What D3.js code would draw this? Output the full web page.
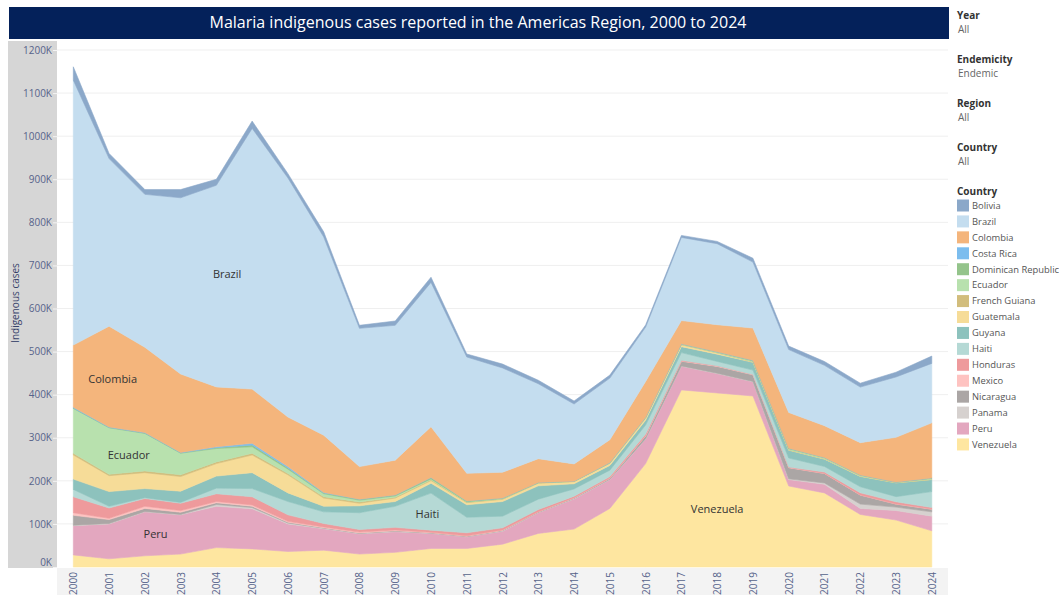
<!DOCTYPE html>
<html>
<head>
<meta charset="utf-8">
<title>Malaria indigenous cases</title>
<script src="https://cdn.jsdelivr.net/npm/d3@7"></script>
<style>
    body { margin: 0; background: #fff; }
    svg text { font-family: "Open Sans", "Noto Sans", sans-serif; }
</style>
</head>
<body>
<script>
// years on the x axis
var years = d3.range(2000, 2025);

// indigenous cases per country, in thousands
var venezuela = [28, 19, 26, 30, 45, 42, 36, 39, 30, 34, 43, 43, 53, 78, 88, 136, 240, 411, 404, 397, 188, 172, 122, 109, 84];
var peru      = [68, 81, 102, 91, 96, 93, 64, 50, 47, 48, 35, 27, 30, 48, 70, 67, 57, 55, 45, 33, 15, 20, 14, 22, 34];
var panama    = [1, 1, 1, 1, 4, 3, 2, 1, 1, 1, 0.5, 0.4, 1, 0.7, 0.9, 0.5, 0.8, 0.7, 0.7, 0.6, 1.6, 3, 10, 8, 10];
var nicaragua = [23, 9, 7, 5, 4, 3, 2, 1, 1, 1, 1, 1, 1, 1.2, 1.2, 2.3, 6.3, 10.9, 15.9, 15.5, 26, 22, 21, 7, 6];
var mexico    = [6, 3, 5, 4, 3, 3, 2, 2, 2, 2, 1, 1, 1, 0.5, 0.7, 0.5, 0.5, 0.7, 0.8, 0.6, 0.4, 0.3, 0.3, 0.3, 0.4];
var honduras  = [37, 24, 18, 17, 18, 19, 15, 8, 6, 6, 5, 7, 5, 5, 3.4, 3.5, 4, 1.3, 0.7, 0.3, 1, 3, 5, 5, 3.6];
var haiti     = [17, 4, 2, 2, 13, 19, 31, 27, 39, 49, 86, 36, 27, 24, 17, 15, 21, 18, 10, 10, 21, 13, 14, 12, 37];
var guyana    = [24, 34, 21, 26, 28, 37, 20, 13, 16, 11, 23, 29, 34, 31, 12, 11, 11, 13.9, 17, 18, 18, 17, 24, 32, 28];
var guatemala = [56, 37, 37, 34, 29, 41, 42, 19, 6, 8, 6, 5, 5, 6, 5, 5, 5, 4.4, 3, 1.2, 1, 0.8, 1, 0.5, 0.5];
var frenchGuiana = [4, 3, 4, 4, 4, 4, 3, 3, 3, 2, 2, 1, 1, 1, 0.4, 0.4, 0.3, 0.4, 0.2, 0.2, 0.2, 0.1, 0.1, 0.1, 0.1];
var ecuador   = [104, 108, 87, 50, 31, 15, 10, 7, 4, 3, 2, 1, 1, 0.4, 0.2, 0.6, 1.2, 1.3, 1.6, 2, 2.2, 2.3, 1.7, 0.7, 2];
var dominicanRep = [1, 1, 1, 1, 2, 4, 3, 2, 2, 2, 3, 2, 1, 0.6, 0.5, 0.6, 0.7, 0.4, 0.5, 1.3, 1.2, 0.5, 0.5, 0.5, 1];
var costaRica = [2, 1, 1, 1, 2, 4, 3, 1, 0.5, 0.3, 0.1, 0, 0, 0, 0, 0, 0, 0, 0, 0, 0.1, 0, 0, 0, 0];
var colombia  = [144, 234, 198, 182, 139, 126, 115, 133, 75.5, 80.7, 118, 64, 60, 55, 40, 53, 83, 54, 63, 75, 83, 74, 75, 104, 128];
var brazil    = [615, 389, 355, 409, 468, 605, 555, 460, 321, 313, 335, 270, 242, 174, 139, 143, 126, 193, 188, 153, 146, 140, 129, 140, 138];
var bolivia   = [31, 12, 11, 19, 14, 17, 10, 12, 7, 10, 12, 7, 9, 8, 7, 7, 5, 4.6, 5.3, 9, 8, 9, 9, 11, 17];

// legend order (top of the stack first)
var countries = ["Bolivia", "Brazil", "Colombia", "Costa Rica", "Dominican Republic", "Ecuador",
    "French Guiana", "Guatemala", "Guyana", "Haiti", "Honduras", "Mexico", "Nicaragua",
    "Panama", "Peru", "Venezuela"];
var series = [bolivia, brazil, colombia, costaRica, dominicanRep, ecuador, frenchGuiana,
    guatemala, guyana, haiti, honduras, mexico, nicaragua, panama, peru, venezuela];
var colors = ["#8ba8c9", "#c4ddef", "#f4b57c", "#7cbdee", "#94c48b", "#b8e1ae", "#d2bd7c",
    "#f6dc98", "#8dc2bd", "#b5d9d5", "#ee9a9c", "#fec3c1", "#aba6a5", "#d6d1cf", "#e3a7bf", "#fee6a0"];

var yTicks = d3.range(0, 1200001, 100000);

// labels drawn inside the areas
var areaLabels = [
    {name: "Brazil", year: 2004.3, value: 680000},
    {name: "Colombia", year: 2001.1, value: 436000},
    {name: "Ecuador", year: 2001.55, value: 259000},
    {name: "Peru", year: 2002.3, value: 77000},
    {name: "Haiti", year: 2009.9, value: 122000},
    {name: "Venezuela", year: 2018.0, value: 135000}
];

var width = 1059, height = 595;

var x = d3.scaleLinear().domain([2000, 2024]).range([73.3, 931.8]);
var y = d3.scaleLinear().domain([0, 1200000]).range([567, 50]);

var table = years.map(function(yr, i){
    var row = {year: yr};
    countries.forEach(function(c, j){ row[c] = series[j][i] * 1000; });
    return row;
});

var stackKeys = countries.slice().reverse(); // Venezuela at the bottom
var stacked = d3.stack().keys(stackKeys)(table);
var color = d3.scaleOrdinal().domain(countries).range(colors);

var svg = d3.select("body").append("svg")
    .attr("width", width)
    .attr("height", height);

// title bar
svg.append("rect")
    .attr("x", 9).attr("y", 7).attr("width", 940).attr("height", 32)
    .attr("fill", "#04215a");
svg.append("text")
    .attr("x", 478).attr("y", 28)
    .attr("text-anchor", "middle")
    .attr("fill", "#fff")
    .style("font-size", "16px")
    .text("Malaria indigenous cases reported in the Americas Region, 2000 to 2024");

// axis bands
svg.append("rect")
    .attr("x", 8).attr("y", 41).attr("width", 49).attr("height", 527)
    .attr("fill", "#d6d6d6");
svg.append("rect")
    .attr("x", 57).attr("y", 568).attr("width", 891).attr("height", 27)
    .attr("fill", "#f3f3f3");

// gridlines
svg.append("g").selectAll("line")
    .data(yTicks.slice(1))
    .enter().append("line")
    .attr("x1", 57).attr("x2", 948)
    .attr("y1", function(d){ return y(d); })
    .attr("y2", function(d){ return y(d); })
    .attr("stroke", "#efefef")
    .attr("stroke-width", 1);

// stacked areas
var area = d3.area()
    .x(function(d){ return x(d.data.year); })
    .y0(function(d){ return y(d[0]); })
    .y1(function(d){ return y(d[1]); });

svg.append("g").selectAll("path")
    .data(stacked)
    .enter().append("path")
    .attr("d", area)
    .attr("fill", function(d){ return color(d.key); })
    .attr("stroke", function(d){ return color(d.key); })
    .attr("stroke-width", 0.6);

// y axis
var axisY = d3.axisLeft(y)
    .tickValues(yTicks)
    .tickSize(4)
    .tickFormat(function(d){ return (d / 1000) + "K"; });
var gY = svg.append("g")
    .attr("transform", "translate(57,0)")
    .call(axisY);
gY.select(".domain").remove();
gY.selectAll(".tick line").attr("stroke", "#f4f4f4");
gY.selectAll(".tick text")
    .attr("fill", "#56638a")
    .style("font-size", "10px")
    .attr("x", -5)
    .filter(function(d){ return d === 0; })
    .attr("dy", "-0.2em");

svg.append("text")
    .attr("transform", "translate(19,303) rotate(-90)")
    .attr("text-anchor", "middle")
    .attr("fill", "#36426a")
    .style("font-size", "10px")
    .text("Indigenous cases");

// x axis
var axisX = d3.axisBottom(x)
    .tickValues(years)
    .tickSize(0)
    .tickFormat(d3.format("d"));
var gX = svg.append("g")
    .attr("transform", "translate(0,570)")
    .call(axisX);
gX.select(".domain").remove();
gX.selectAll(".tick text")
    .attr("fill", "#56638a")
    .style("font-size", "10px")
    .attr("text-anchor", "end")
    .attr("transform", "rotate(-90)")
    .attr("x", -2)
    .attr("y", 0)
    .attr("dy", "0.35em");

// in-area labels
svg.append("g").selectAll("text")
    .data(areaLabels)
    .enter().append("text")
    .attr("x", function(d){ return x(d.year); })
    .attr("y", function(d){ return y(d.value); })
    .attr("text-anchor", "middle")
    .attr("dy", "0.35em")
    .attr("fill", "#333")
    .style("font-size", "11px")
    .text(function(d){ return d.name; });

// filter panel
var filters = [["Year", "All"], ["Endemicity", "Endemic"], ["Region", "All"], ["Country", "All"]];
var panel = svg.append("g").attr("transform", "translate(957,0)");
filters.forEach(function(f, i){
    panel.append("text")
        .attr("x", 0).attr("y", 19 + i * 44)
        .attr("fill", "#333")
        .style("font-size", "10px")
        .style("font-weight", "bold")
        .text(f[0]);
    panel.append("text")
        .attr("x", 1).attr("y", 33 + i * 44)
        .attr("fill", "#666")
        .style("font-size", "10px")
        .text(f[1]);
});

// colour legend
panel.append("text")
    .attr("x", 0).attr("y", 195)
    .attr("fill", "#333")
    .style("font-size", "10px")
    .style("font-weight", "bold")
    .text("Country");

var legend = panel.selectAll("g.item")
    .data(countries)
    .enter().append("g")
    .attr("class", "item")
    .attr("transform", function(d, i){ return "translate(0," + (199.5 + i * 15.93) + ")"; });
legend.append("rect")
    .attr("width", 12).attr("height", 12)
    .attr("fill", function(d){ return color(d); });
legend.append("text")
    .attr("x", 15).attr("y", 6)
    .attr("dy", "0.35em")
    .attr("fill", "#555")
    .style("font-size", "9.4px")
    .text(function(d){ return d; });
</script>
</body>
</html>
